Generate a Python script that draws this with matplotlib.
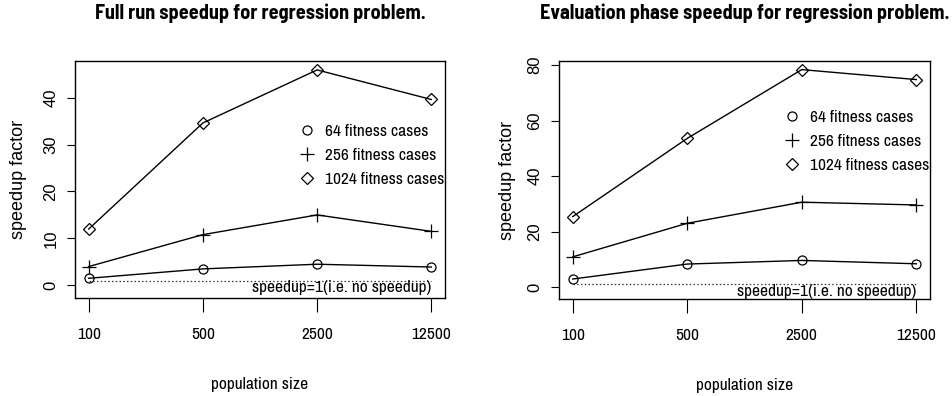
import matplotlib
matplotlib.use("Agg")
import matplotlib.pyplot as plt
from matplotlib.lines import Line2D
from matplotlib.transforms import offset_copy

NARROW = ['Archivo Narrow', 'Liberation Sans', 'DejaVu Sans']
BOLDNARROW = ['Barlow Semi Condensed', 'Archivo Narrow', 'Liberation Sans', 'DejaVu Sans']
REG = ['Liberation Sans', 'DejaVu Sans']

pop_labels = ['100', '500', '2500', '12500']
xpos = [1, 2, 3, 4]

full_64 = [1.5, 3.5, 4.5, 3.9]
full_256 = [4.0, 10.8, 15.0, 11.5]
full_1024 = [12.0, 34.6, 45.9, 39.6]

eval_64 = [2.9, 8.3, 9.6, 8.4]
eval_256 = [10.9, 23.0, 30.6, 29.6]
eval_1024 = [25.4, 53.6, 78.4, 74.8]

legend_labels = ['64 fitness cases', '256 fitness cases', '1024 fitness cases']
titles = ['Full run speedup for regression problem.',
          'Evaluation phase speedup for regression problem.']
yticks_full = [0, 10, 20, 30, 40]
yticks_eval = [0, 20, 40, 60, 80]
baseline = 1

W, H = 953, 396
fig = plt.figure(figsize=(W / 100, H / 100), dpi=100)

def px_axes(x0, y0, x1, y1):
    return fig.add_axes([x0 / W, 1 - y1 / H, (x1 - x0) / W, (y1 - y0) / H])

ax1 = px_axes(75, 61, 445, 298)
ax2 = px_axes(559, 61, 930, 299)

markers = ['o', '+', 'D']
msizes = [6.5, 10, 6.5]

def draw(ax, series, yticks, ylim, title, leg_anchor, ylabpad):
    for s, m, ms in zip(series, markers, msizes):
        ax.plot(xpos, s, color='black', lw=1.0, marker=m, ms=ms,
                mfc='none', mec='black', mew=0.9)
    ax.plot([xpos[0], xpos[-1]], [baseline, baseline], color='#333333',
            lw=0.9, ls=(0, (1.2, 1.8)))
    trans = offset_copy(ax.transData, fig=fig, x=0, y=-7, units='dots')
    ax.text(xpos[-1], baseline, 'speedup=1(i.e. no speedup)', transform=trans,
            ha='right', va='center', fontsize=12.5, family=NARROW)
    ax.set_xlim(0.88, 4.12)
    ax.set_ylim(*ylim)
    ax.set_xticks(xpos)
    ax.set_xticklabels(pop_labels, family=NARROW, fontsize=12.5)
    ax.set_yticks(yticks)
    ax.set_yticklabels([str(v) for v in yticks], family=REG, fontsize=12,
                       rotation=90, va='center')
    ax.tick_params(axis='x', length=10, width=0.8, pad=11, direction='out')
    ax.tick_params(axis='y', length=6, width=0.8, pad=6, direction='out')
    for sp in ax.spines.values():
        sp.set_linewidth(1.0)
    ax.set_title(title, family=BOLDNARROW, fontweight='bold', fontsize=14.5, pad=30.5)
    ax.set_xlabel('population size', family=NARROW, fontsize=12.5, labelpad=25)
    ax.set_ylabel('speedup factor', family=REG, fontsize=13, labelpad=ylabpad)
    handles = [Line2D([], [], ls='none', marker=m, ms=ms, mfc='none',
                      mec='black', mew=0.9, color='black')
               for m, ms in zip(markers, msizes)]
    ax.legend(handles, legend_labels, loc='upper left',
              bbox_to_anchor=leg_anchor, bbox_transform=fig.transFigure,
              frameon=False, borderpad=0, borderaxespad=0, handlelength=1.0,
              handletextpad=0.55, labelspacing=0.5,
              prop={'family': NARROW, 'size': 12.5})

draw(ax1, [full_64, full_256, full_1024], yticks_full, (-2.7, 47.8),
     titles[0], (298.5 / W, 1 - 124 / H), 11.5)
draw(ax2, [eval_64, eval_256, eval_1024], yticks_eval, (-4.3, 81.5),
     titles[1], (783 / W, 1 - 110 / H), 8)

fig.savefig('out.png', dpi=100)
